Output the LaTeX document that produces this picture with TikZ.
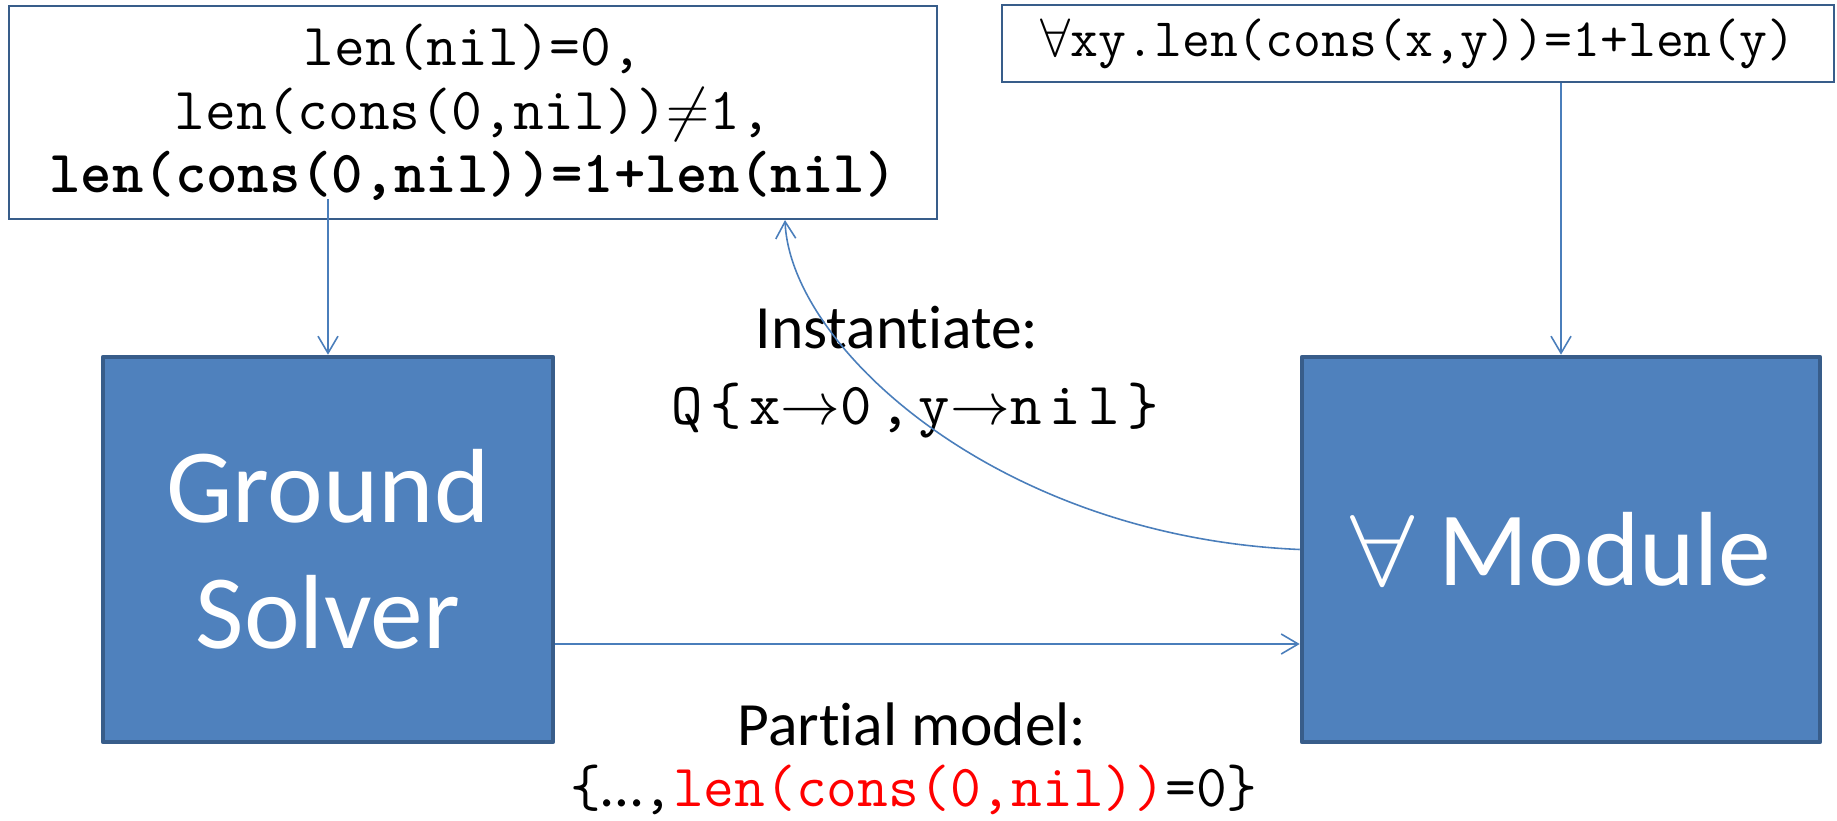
\documentclass[tikz,border=0pt]{standalone}
\usepackage{fix-cm}
\usepackage{graphicx}
\usepackage{fontspec}
\setmainfont{Carlito}[Ligatures=NoCommon]
\newfontfamily\ttwide{lmmono10-regular}[Extension=.otf, LetterSpace=13]
\usetikzlibrary{arrows.meta}
\definecolor{boxfill}{HTML}{4F81BD}
\definecolor{boxline}{HTML}{385D8A}
\definecolor{conncol}{HTML}{4A7EBB}
\definecolor{modelred}{HTML}{FF0000}

\begin{document}
\begin{tikzpicture}[
        solver/.style={draw=boxline, line width=1.3pt, fill=boxfill, text=white,
            font=\fontsize{30}{35.9}\selectfont, align=center, inner sep=0pt, line join=round},
        formula/.style={draw=boxline, line width=0.6pt, inner sep=0pt, align=center},
        conn/.style={draw=conncol, line width=0.45pt, -{Straight Barb[length=1.7mm,width=2mm]}},
        caption/.style={anchor=base, font=\fontsize{17.5}{21}\selectfont}
    ]
    \useasboundingbox (0,0) rectangle (18.37,-8.2);

    % formula boxes
    \node[formula, minimum width=9.28cm, minimum height=2.13cm,
        font=\ttfamily\fontsize{17}{18}\selectfont] (facts) at (4.73,-1.125)
        {len(nil)=0,\\ len(cons(0,nil))$\neq$1,\\ \textbf{len(cons(0,nil))=1+len(nil)}};
    \node[formula, minimum width=8.32cm, minimum height=0.77cm,
        font=\ttfamily\fontsize{15.4}{17}\selectfont] (rule) at (14.18,-0.435)
        {$\forall$xy.len(cons(x,y))=1+len(y)};

    % solvers
    \node[solver, minimum width=4.5cm, minimum height=3.85cm] (gsolver) at (3.28,-5.495) {Ground\\Solver};
    \node[solver, minimum width=5.18cm, minimum height=3.85cm] (fmod) at (15.61,-5.495)
        {\resizebox{0.64cm}{0.7cm}{$\forall$} Module};

    % labels
    \node[caption] (inst) at (8.97,-3.48) {Instantiate:};
    \node[anchor=base, font=\ttwide\fontsize{17}{20}\selectfont] (subst) at (9.15,-4.24)
        {Q\{x$\rightarrow$0,y$\rightarrow$nil\}};
    \node[caption] (pmodel) at (9.12,-7.45) {Partial model:};
    \node[anchor=base, font=\ttfamily\fontsize{17}{20}\selectfont] (model) at (9.14,-8.06)
        {\{\textrm{…},\textcolor{modelred}{len(cons(0,nil))}=0\}};

    % connectors
    \path (facts.south -| gsolver.north) ++(0,0.21) coordinate (fdrop);
    \coordinate (instin) at ([xshift=3.12cm]facts.south);
    \draw[conn] (fdrop) -- (gsolver.north);
    \draw[conn] (fmod.north |- rule.south) -- (fmod.north);
    \draw[conn] ([yshift=-0.945cm]gsolver.east) -- ([yshift=-0.945cm]fmod.west);
    \draw[conn] (fmod.west) .. controls +(-3.03,0.13) and +(0.05,-1.26) .. (instin);
\end{tikzpicture}
\end{document}
